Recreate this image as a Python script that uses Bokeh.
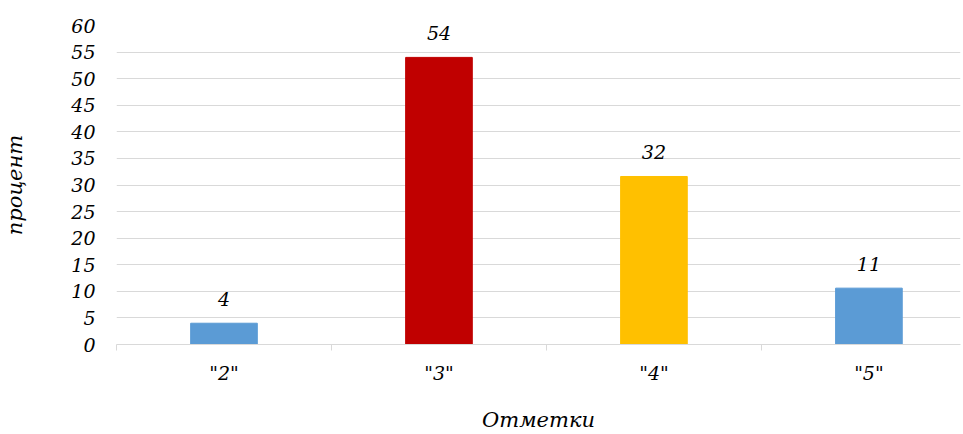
from bokeh.plotting import figure
from bokeh.models import Range1d, FixedTicker, ColumnDataSource
from bokeh.core.properties import value
from bokeh.embed import file_html
from bokeh.resources import INLINE

categories = ['"2"', '"3"', '"4"', '"5"']
values = [4, 54, 31.6, 10.6]
labels = ["4", "54", "32", "11"]
colors = ["#5B9BD5", "#C00000", "#FFC000", "#5B9BD5"]

xs = [i + 0.5 for i in range(len(categories))]
src = ColumnDataSource(dict(x=xs, top=values, label=labels, color=colors))

FONT = "DejaVu Serif"

p = figure(width=963, height=434, output_backend="svg", toolbar_location=None,
           x_range=Range1d(0, 3.926), y_range=Range1d(0, 60),
           min_border_left=116, min_border_right=3, min_border_top=25, min_border_bottom=88)
p.outline_line_color = None
p.background_fill_color = "white"

p.vbar(x="x", top="top", width=0.31, color="color", source=src)
p.text(x="x", y="top", text="label", source=src, text_align="center", text_baseline="bottom",
       y_offset=-17, text_font=value(FONT), text_font_style="italic",
       text_font_size="19px", text_color="#000000")

p.xaxis.ticker = FixedTicker(ticks=xs, minor_ticks=list(range(len(categories) + 1)))
p.xaxis.major_label_overrides = {x: c for x, c in zip(xs, categories)}
p.xaxis.major_tick_out = 0
p.xaxis.major_tick_in = 0
p.xaxis.minor_tick_out = 6
p.xaxis.minor_tick_in = 0
p.xaxis.minor_tick_line_color = "#D9D9D9"
p.xaxis.axis_line_color = "#D9D9D9"
p.xaxis.axis_line_width = 1
p.xaxis.major_label_standoff = 11
p.xaxis.axis_label = "Отметки"
p.xaxis.axis_label_standoff = 21

p.yaxis.ticker = FixedTicker(ticks=list(range(0, 61, 5)))
p.yaxis.axis_line_color = None
p.yaxis.major_tick_line_color = None
p.yaxis.minor_tick_line_color = None
p.yaxis.major_label_standoff = 15
p.yaxis.axis_label = "процент"
p.yaxis.axis_label_standoff = 41

for ax in (p.xaxis, p.yaxis):
    ax.major_label_text_font = FONT
    ax.major_label_text_font_style = "italic"
    ax.major_label_text_font_size = "19px"
    ax.major_label_text_color = "#000000"
    ax.axis_label_text_font = FONT
    ax.axis_label_text_font_style = "italic"
    ax.axis_label_text_font_size = "21px"
    ax.axis_label_text_color = "#000000"

p.xgrid.grid_line_color = None
p.ygrid.grid_line_color = "#D9D9D9"
p.ygrid.grid_line_width = 1

open("out.html", "w").write(file_html(p, INLINE))
